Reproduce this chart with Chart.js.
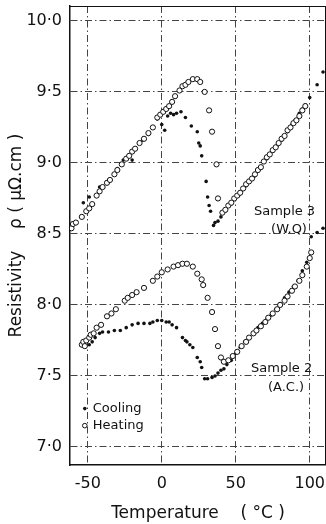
<!DOCTYPE html>
<html>
<head>
<meta charset="utf-8">
<script src="https://cdn.jsdelivr.net/npm/chart.js@4"></script>
<style>
  html, body { margin: 0; padding: 0; background: #fff; }
  #wrap { width: 326px; height: 524px; }
</style>
</head>
<body>
<div id="wrap"><canvas id="resChart" width="326" height="524"></canvas></div>
<script>
// Resistivity vs temperature, samples 2 (A.C.) and 3 (W.Q.)

// tick labels
const xTicks = [-50, 0, 50, 100];
const yTicks = [7.0, 7.5, 8.0, 8.5, 9.0, 9.5, 10.0];

// sample 3 heating (open circles)
const s3HeatT = [-61, -60, -58, -54, -51, -49, -47, -44, -42, -40, -37, -35, -32, -30, -27, -24, -22, -20, -18, -15, -12, -9, -6, -3, -1, 1, 3, 5, 7, 9, 12, 14, 16, 18, 21, 24, 26, 29, 32, 34, 37, 38,
  41, 43, 45, 47, 49, 51, 53, 55, 57, 59, 61, 63, 65, 67, 69, 71, 73, 75, 77, 79, 81, 83, 85, 87, 89, 91, 93, 95, 97];
const s3HeatR = [8.54, 8.57, 8.58, 8.62, 8.66, 8.68, 8.71, 8.77, 8.80, 8.83, 8.86, 8.88, 8.92, 8.95, 8.99, 9.03, 9.05, 9.08, 9.10, 9.14, 9.17, 9.21, 9.25, 9.32, 9.34, 9.36, 9.38, 9.40, 9.43, 9.47, 9.51, 9.54, 9.55, 9.57, 9.59, 9.59, 9.57, 9.50, 9.37, 9.22, 8.99, 8.75,
  8.65, 8.67, 8.70, 8.72, 8.75, 8.77, 8.79, 8.82, 8.85, 8.87, 8.89, 8.92, 8.95, 8.97, 9.01, 9.04, 9.06, 9.09, 9.11, 9.14, 9.17, 9.19, 9.23, 9.25, 9.28, 9.30, 9.33, 9.37, 9.40];

// sample 3 cooling (dots)
const s3CoolT = [109, 105, 100, 97, 95, 93, 90, 88, 85, 83, 81, 78, 75, 71, 67, 62, 57, 52, 47, 43, 40, 38, 36, 35,
  33, 32, 31, 30, 27, 26, 25, 24, 20, 16, 13, 10, 8, 6, 4, 2, 0, -3, -9, -13, -20, -26, -30, -42, -49, -53];
const s3CoolR = [9.64, 9.55, 9.46, 9.41, 9.38, 9.35, 9.30, 9.27, 9.22, 9.19, 9.16, 9.12, 9.08, 9.03, 8.97, 8.90, 8.84, 8.77, 8.71, 8.66, 8.62, 8.59, 8.58, 8.56,
  8.66, 8.70, 8.76, 8.87, 9.05, 9.12, 9.14, 9.22, 9.26, 9.32, 9.36, 9.35, 9.34, 9.35, 9.33, 9.23, 9.27, 9.31, 9.20, 9.16, 9.02, 9.02, 8.96, 8.83, 8.76, 8.72];

// sample 2 heating (open circles)
const s2HeatT = [-54, -53, -52, -51, -49, -48, -46, -44, -41, -37, -34, -31, -25, -23, -20, -17, -12, -6, -3, 0, 4, 8, 11, 14, 17, 21, 24, 27, 28, 31, 34, 36, 38, 40, 42,
  45, 48, 51, 54, 57, 59, 62, 64, 67, 70, 72, 75, 78, 80, 83, 85, 88, 90, 93, 95, 98, 100, 101];
const s2HeatR = [7.72, 7.74, 7.71, 7.75, 7.77, 7.79, 7.80, 7.84, 7.86, 7.92, 7.94, 7.97, 8.03, 8.05, 8.07, 8.09, 8.12, 8.17, 8.20, 8.23, 8.25, 8.27, 8.28, 8.29, 8.29, 8.27, 8.22, 8.18, 8.14, 8.05, 7.95, 7.83, 7.71, 7.63, 7.60,
  7.61, 7.64, 7.67, 7.71, 7.74, 7.77, 7.80, 7.82, 7.85, 7.88, 7.91, 7.94, 7.97, 8.00, 8.03, 8.06, 8.10, 8.13, 8.17, 8.21, 8.27, 8.33, 8.37];

// sample 2 cooling (dots)
const s2CoolT = [109, 105, 101, 98, 95, 92, 89, 86, 83, 80, 77, 74, 71, 68, 65, 62, 59, 56, 53, 50, 47, 44, 42, 40, 38, 36, 34, 31, 29,
  27, 26, 24, 21, 19, 17, 16, 14, 10, 7, 5, 3, 0, -3, -6, -8, -12, -16, -20, -24, -28, -32, -36, -40, -42, -45, -47, -49];
const s2CoolR = [8.54, 8.51, 8.48, 8.30, 8.24, 8.17, 8.13, 8.09, 8.05, 8.01, 7.97, 7.93, 7.90, 7.87, 7.84, 7.80, 7.77, 7.74, 7.70, 7.66, 7.61, 7.58, 7.55, 7.54, 7.52, 7.50, 7.49, 7.48, 7.48,
  7.56, 7.60, 7.63, 7.70, 7.72, 7.74, 7.75, 7.77, 7.84, 7.86, 7.88, 7.88, 7.89, 7.89, 7.88, 7.87, 7.87, 7.87, 7.86, 7.84, 7.82, 7.82, 7.81, 7.81, 7.80, 7.77, 7.74, 7.72];

const INK = '#111';
const FONT = "'DejaVu Sans', sans-serif";

function toPoints(xs, ys) {
  return xs.map((x, i) => ({ x: x, y: ys[i] }));
}

function heating(label, xs, ys) {
  return {
    label: label,
    data: toPoints(xs, ys),
    pointRadius: 2.6,
    pointBorderWidth: 1,
    pointBackgroundColor: '#fff',
    pointBorderColor: INK,
    showLine: false
  };
}

function cooling(label, xs, ys) {
  return {
    label: label,
    data: toPoints(xs, ys),
    pointRadius: 1.8,
    pointBorderWidth: 0,
    pointBackgroundColor: INK,
    pointBorderColor: INK,
    showLine: false
  };
}

// frame, legend and sample labels drawn inside the plot
const notesPlugin = {
  id: 'notes',
  afterDraw(chart) {
    const ctx = chart.ctx;
    const xs = chart.scales.x;
    const ys = chart.scales.y;
    const a = chart.chartArea;
    ctx.save();
    ctx.strokeStyle = INK;
    ctx.lineWidth = 1;
    ctx.beginPath();
    ctx.moveTo(a.left, a.top + 0.5);
    ctx.lineTo(a.right, a.top + 0.5);
    ctx.moveTo(a.right - 0.5, a.top);
    ctx.lineTo(a.right - 0.5, a.bottom);
    ctx.stroke();

    ctx.fillStyle = INK;
    ctx.font = '13px ' + FONT;
    ctx.textBaseline = 'middle';
    ctx.textAlign = 'center';
    ctx.fillText('Sample 3', xs.getPixelForValue(83), ys.getPixelForValue(8.655));
    ctx.fillText('(W.Q)', xs.getPixelForValue(86), ys.getPixelForValue(8.53));
    ctx.fillText('Sample 2', xs.getPixelForValue(81), ys.getPixelForValue(7.55));
    ctx.fillText('(A.C.)', xs.getPixelForValue(84), ys.getPixelForValue(7.415));

    // legend
    const lx = xs.getPixelForValue(-52);
    const yc = ys.getPixelForValue(7.27);
    const yh = ys.getPixelForValue(7.15);
    ctx.beginPath();
    ctx.arc(lx, yc, 1.8, 0, Math.PI * 2);
    ctx.fill();
    ctx.beginPath();
    ctx.arc(lx, yh, 2.3, 0, Math.PI * 2);
    ctx.stroke();
    ctx.textAlign = 'left';
    ctx.fillText('Cooling', lx + 8, yc);
    ctx.fillText('Heating', lx + 8, yh);
    ctx.restore();
  }
};

function fixTicks(values) {
  return function(scale) {
    scale.ticks = values.map(v => ({ value: v }));
  };
}

new Chart(document.getElementById('resChart'), {
  type: 'scatter',
  data: {
    datasets: [
      heating('Sample 3 heating', s3HeatT, s3HeatR),
      cooling('Sample 3 cooling', s3CoolT, s3CoolR),
      heating('Sample 2 heating', s2HeatT, s2HeatR),
      cooling('Sample 2 cooling', s2CoolT, s2CoolR)
    ]
  },
  options: {
    responsive: false,
    animation: false,
    layout: { autoPadding: false, padding: { top: 6, right: 0, left: 0, bottom: 0 } },
    plugins: {
      legend: { display: false },
      tooltip: { enabled: false }
    },
    scales: {
      x: {
        type: 'linear',
        min: -62,
        max: 111,
        afterBuildTicks: fixTicks(xTicks),
        afterFit(scale) {
          scale.height = 59;
          scale.paddingLeft = 0;
          scale.paddingRight = 0;
        },
        grid: { color: '#444', lineWidth: 1, drawTicks: false },
        border: { color: INK, width: 1.5, dash: [7, 3, 1.5, 3] },
        ticks: {
          color: INK,
          padding: 9,
          font: { family: FONT, size: 16 },
          callback: v => String(v)
        },
        title: {
          display: true,
          text: 'Temperature    ( °C )',
          color: INK,
          font: { family: FONT, size: 17 },
          padding: { top: 0, bottom: 0 }
        }
      },
      y: {
        type: 'linear',
        min: 6.873,
        max: 10.105,
        afterBuildTicks: fixTicks(yTicks),
        afterFit(scale) {
          scale.width = 70;
          scale.paddingTop = 0;
          scale.paddingBottom = 0;
        },
        grid: { color: '#444', lineWidth: 1, drawTicks: false },
        border: { color: INK, width: 1.5, dash: [7, 3, 1.5, 3] },
        ticks: {
          color: INK,
          padding: 8,
          font: { family: FONT, size: 16 },
          callback: v => v.toFixed(1).replace('.', '·')
        },
        title: {
          display: true,
          text: 'Resistivity    ρ ( μΩ.cm )',
          color: INK,
          font: { family: FONT, size: 17 },
          padding: { top: 6, bottom: 0 }
        }
      }
    }
  },
  plugins: [notesPlugin]
});
</script>
</body>
</html>
